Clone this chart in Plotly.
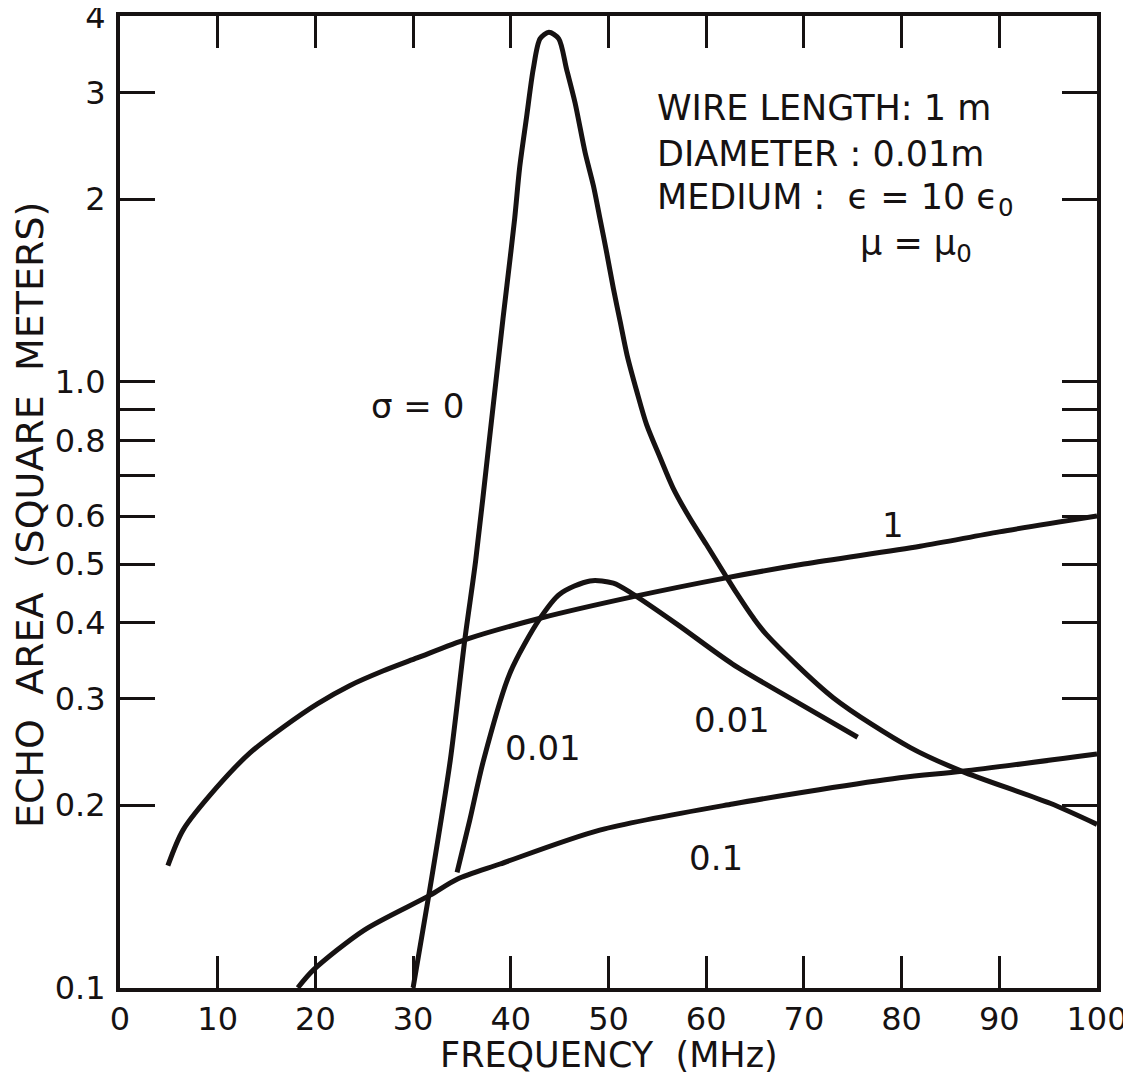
import plotly.graph_objects as go
import math

# sigma = 0 curve
sig0_x = [30.0, 31.7, 33.8, 35.3, 36.4, 37.8, 39.2, 39.6, 40.4, 40.9, 41.6, 42.3, 43.0, 43.9, 44.9, 45.7,
          46.57, 47.6, 48.45, 49.13, 49.8, 50.5, 51.2, 51.9, 52.9, 53.9, 55.3, 56.6, 58.3, 60.0, 61.9, 63.1,
          64.8, 66.2, 73.0, 80.9, 86.2, 95.2, 100.0]
sig0_y = [0.100, 0.145, 0.237, 0.376, 0.506, 0.80, 1.27, 1.44, 1.86, 2.25, 2.72, 3.28, 3.68, 3.77, 3.68, 3.28,
          2.887, 2.39, 2.106, 1.856, 1.636, 1.424, 1.255, 1.106, 0.963, 0.849, 0.748, 0.668, 0.596, 0.539, 0.481, 0.448,
          0.408, 0.382, 0.301, 0.249, 0.2275, 0.2015, 0.186]

# sigma = 1 curve
sig1_x = [4.9, 6.45, 9.9, 13.3, 16.7, 20.2, 23.5, 26.9, 30.4, 35.5, 43.0, 52.9, 61.9, 70.0, 81.9, 90.0, 100.0]
sig1_y = [0.159, 0.182, 0.214, 0.244, 0.269, 0.294, 0.315, 0.333, 0.350, 0.376, 0.407, 0.443, 0.474, 0.50, 0.535, 0.565, 0.60]

# sigma = 0.01 curve
sig001_x = [34.5, 35.8, 37.2, 39.9, 43.0, 45.0, 48.1, 50.5, 52.5, 57.0, 62.7, 69.6, 75.5]
sig001_y = [0.155, 0.189, 0.237, 0.330, 0.407, 0.446, 0.469, 0.465, 0.446, 0.398, 0.342, 0.294, 0.259]

# sigma = 0.1 curve
sig01_x = [18.2, 19.8, 25.0, 31.7, 34.5, 38.9, 49.1, 62.7, 79.8, 86.2, 100.0]
sig01_y = [0.100, 0.107, 0.1245, 0.142, 0.151, 0.160, 0.182, 0.201, 0.222, 0.2275, 0.243]

x_ticks = [0, 10, 20, 30, 40, 50, 60, 70, 80, 90, 100]
y_ticks = [0.1, 0.2, 0.3, 0.4, 0.5, 0.6, 0.8, 1.0, 2, 3, 4]
y_tick_labels = ["0.1", "0.2", "0.3", "0.4", "0.5", "0.6", "0.8", "1.0", "2", "3", "4"]
y_unlabeled_ticks = [0.7, 0.9]

FONT = "DejaVu Sans"
INK = "#161212"

fig = go.Figure()
for xs, ys in [(sig0_x, sig0_y), (sig1_x, sig1_y), (sig001_x, sig001_y), (sig01_x, sig01_y)]:
    fig.add_trace(go.Scatter(x=xs, y=ys, mode="lines",
                             line=dict(color=INK, width=5, shape="spline", smoothing=0.8),
                             showlegend=False, hoverinfo="skip"))

curve_labels = [
    dict(text="σ = 0", x=30.5, y=-0.041),
    dict(text="1", x=79.1, y=-0.237),
    dict(text="0.01", x=43.3, y=-0.605),
    dict(text="0.01", x=62.6, y=-0.559),
    dict(text="0.1", x=61.0, y=-0.786),
]
for a in curve_labels:
    fig.add_annotation(xref="x", yref="y", showarrow=False, xanchor="center", yanchor="middle",
                       font=dict(family=FONT, size=34, color=INK), **a)

info_labels = [
    dict(text="WIRE LENGTH: 1 m", x=54.8, y=0.452),
    dict(text="DIAMETER : 0.01m", x=54.8, y=0.375),
    dict(text="MEDIUM :  ϵ = 10 ϵ<sub>0</sub>", x=54.8, y=0.301),
    dict(text="μ = μ<sub>0</sub>", x=75.5, y=0.225),
]
for a in info_labels:
    fig.add_annotation(xref="x", yref="y", showarrow=False, xanchor="left", yanchor="middle",
                       font=dict(family=FONT, size=35, color=INK), **a)

# axis titles
fig.add_annotation(text="FREQUENCY  (MHz)", xref="paper", yref="paper", x=0.5, y=0,
                   xanchor="center", yanchor="middle", yshift=-67, showarrow=False,
                   font=dict(family=FONT, size=35, color=INK))
fig.add_annotation(text="ECHO  AREA  (SQUARE  METERS)", xref="paper", yref="paper", x=0, y=0.5,
                   xanchor="center", yanchor="middle", xshift=-90, yshift=-13, textangle=-90,
                   showarrow=False, font=dict(family=FONT, size=38, color=INK))

fig.update_xaxes(
    range=[0, 100], tickvals=x_ticks, ticktext=[str(v) for v in x_ticks],
    ticks="inside", ticklen=32, tickwidth=3, tickcolor=INK,
    showline=True, linecolor=INK, linewidth=4, mirror="ticks",
    showgrid=False, zeroline=False, automargin=False, ticklabeloverflow="allow",
    tickfont=dict(family=FONT, size=32, color=INK), ticklabelstandoff=0,
)
fig.update_yaxes(
    type="log", range=[math.log10(0.0999), math.log10(4.01)], tickvals=y_ticks, ticktext=y_tick_labels,
    ticks="inside", ticklen=35, tickwidth=3, tickcolor=INK,
    minor=dict(tickmode="array", tickvals=y_unlabeled_ticks, ticks="inside", ticklen=35,
               tickwidth=3, tickcolor=INK, showgrid=False),
    showline=True, linecolor=INK, linewidth=4, mirror="ticks",
    showgrid=False, zeroline=False, automargin=False, ticklabeloverflow="allow",
    tickfont=dict(family=FONT, size=32, color=INK), ticklabelstandoff=4,
)
fig.update_layout(
    width=1131, height=1076,
    margin=dict(l=112, r=42, t=8, b=96),
    plot_bgcolor="white", paper_bgcolor="white",
)
fig.write_html("out.html")
